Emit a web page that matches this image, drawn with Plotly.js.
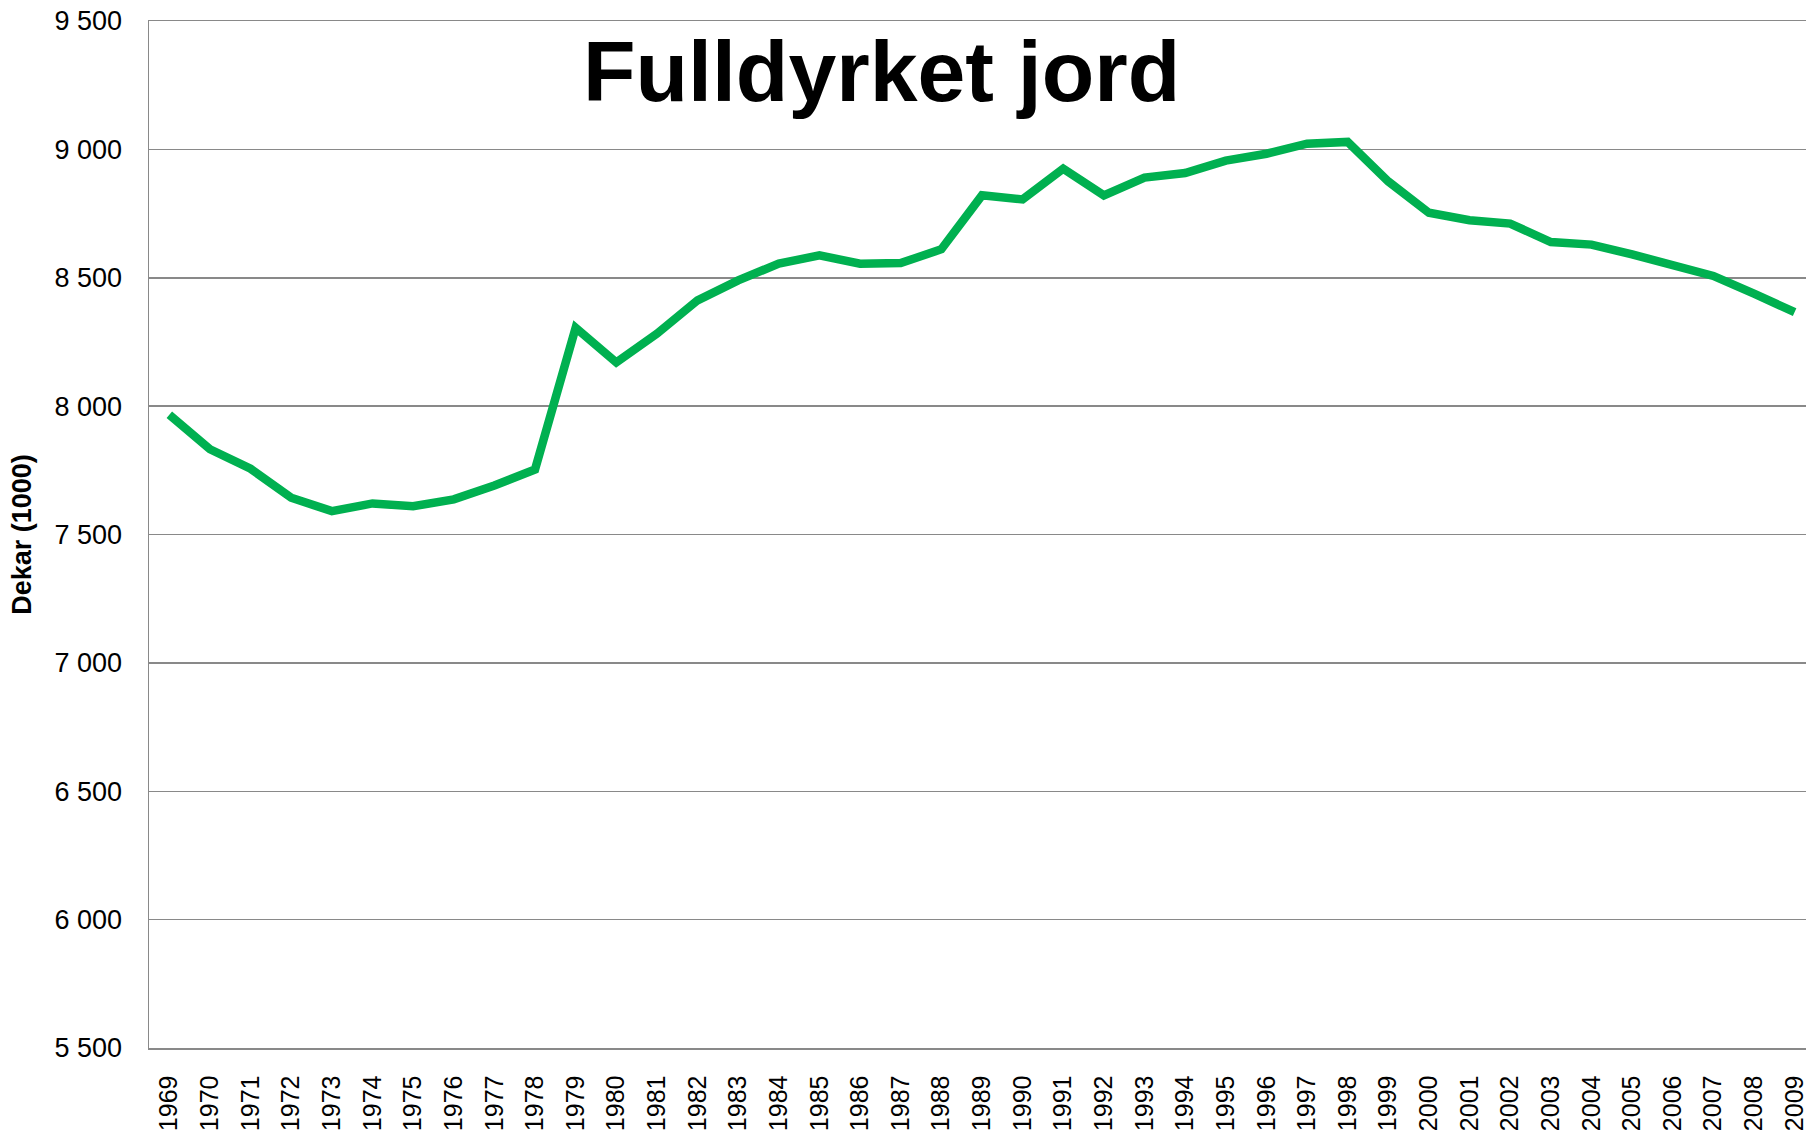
<!DOCTYPE html>
<html>
<head>
<meta charset="utf-8">
<script src="https://cdn.plot.ly/plotly-3.0.1.min.js"></script>
<style>
  html, body { margin: 0; padding: 0; background: #ffffff; overflow: hidden; }
  #chart { width: 1806px; height: 1132px; }
</style>
</head>
<body>
<div id="chart"></div>
<script>
// Data
const years = ["1969","1970","1971","1972","1973","1974","1975","1976","1977","1978",
               "1979","1980","1981","1982","1983","1984","1985","1986","1987","1988",
               "1989","1990","1991","1992","1993","1994","1995","1996","1997","1998",
               "1999","2000","2001","2002","2003","2004","2005","2006","2007","2008","2009"];
const fulldyrket = [7966, 7832, 7756, 7643, 7591, 7621, 7610, 7637, 7691, 7753,
                    8305, 8170, 8282, 8412, 8490, 8555, 8587, 8555, 8557, 8611,
                    8821, 8805, 8925, 8821, 8890, 8908, 8956, 8983, 9022, 9029,
                    8875, 8753, 8724, 8711, 8639, 8629, 8591, 8545, 8507, 8438, 8366];
const chartTitle = "Fulldyrket jord";
const yTitle = "Dekar (1000)";

const FONT = "Liberation Sans, Arial, sans-serif";

const trace = {
  x: years,
  y: fulldyrket,
  type: "scatter",
  mode: "lines",
  line: { color: "#00B050", width: 8.5, shape: "linear" },
  hoverinfo: "x+y",
  showlegend: false
};

const layout = {
  width: 1806,
  height: 1132,
  margin: { l: 149, r: 0, t: 21, b: 84 },
  paper_bgcolor: "#ffffff",
  plot_bgcolor: "#ffffff",
  separators: ", ",
  font: { family: FONT, color: "#000000", size: 25 },
  showlegend: false,
  xaxis: {
    type: "category",
    range: [-0.5, 40.28],
    tickangle: -90,
    tickfont: { family: FONT, size: 25, color: "#000000" },
    ticks: "",
    ticklabelstandoff: 16,
    showgrid: false,
    showline: true,
    mirror: true,
    linecolor: "#898989",
    linewidth: 1.5,
    zeroline: false,
    fixedrange: true
  },
  yaxis: {
    range: [5500, 9500],
    dtick: 500,
    tick0: 5500,
    tickformat: ",d",
    tickfont: { family: FONT, size: 27, color: "#000000" },
    ticks: "",
    ticklabelstandoff: 20,
    showgrid: true,
    gridcolor: "#898989",
    gridwidth: 1.5,
    showline: true,
    linecolor: "#898989",
    linewidth: 1.5,
    zeroline: false,
    automargin: true,
    title: {
      text: yTitle,
      font: { family: FONT, size: 27, color: "#000000", weight: "bold" },
      standoff: 15
    },
    fixedrange: true
  },
  annotations: [{
    text: chartTitle,
    xref: "paper",
    yref: "paper",
    x: 0.4418,
    y: 0.951,
    xanchor: "center",
    yanchor: "middle",
    showarrow: false,
    font: { family: FONT, size: 86, color: "#000000", weight: "bold" }
  }]
};

Plotly.newPlot("chart", [trace], layout, { displayModeBar: false, staticPlot: true });
</script>
</body>
</html>
